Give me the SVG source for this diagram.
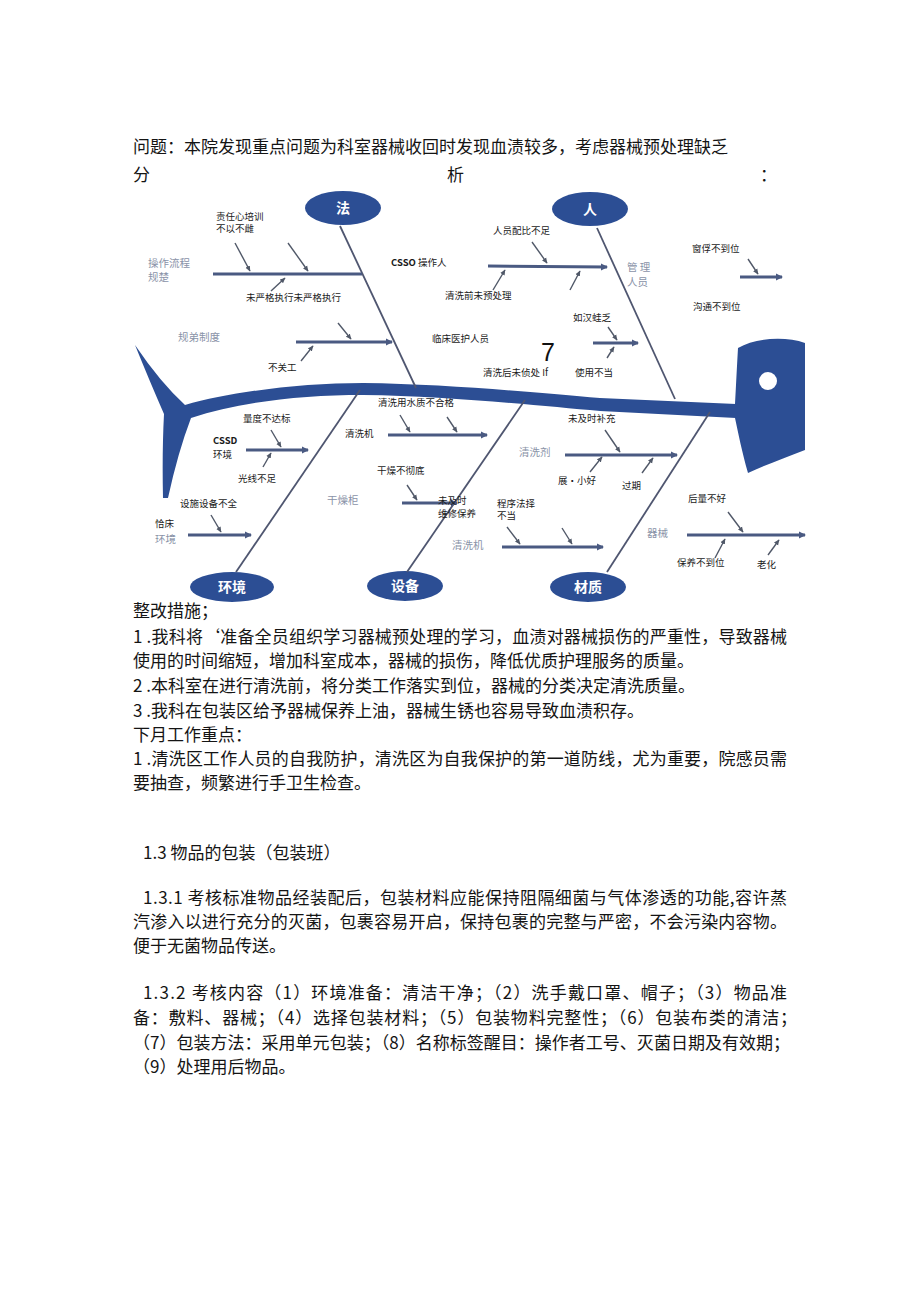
<svg xmlns="http://www.w3.org/2000/svg" width="920" height="1301" viewBox="0 0 920 1301">
<style>
.body{font-family:"Noto Sans CJK SC","Liberation Serif",serif;font-size:17px;fill:#141414}
.lb{font-family:"Noto Sans CJK SC","Liberation Sans",sans-serif;font-size:9.5px;fill:#1a1a1a}
.gl{font-family:"Noto Sans CJK SC","Liberation Sans",sans-serif;font-size:10.5px;fill:#8a93a8}
.el{fill:#2c4e94}
.et{font-family:"Noto Sans CJK SC","Liberation Sans",sans-serif;font-size:14px;font-weight:bold;fill:#ffffff;text-anchor:middle}
.bone{stroke:#4f5670;stroke-width:1.8;fill:none}
.sub{stroke:#4a5a82;stroke-width:3;fill:none}
.sm{stroke:#505868;stroke-width:1.4;fill:none}
</style>
<defs>
<marker id="ah" markerWidth="8" markerHeight="8" refX="6" refY="4" orient="auto" markerUnits="userSpaceOnUse">
<path d="M0,0.5 L7,4 L0,7.5 Z" fill="#4a5a82"/>
</marker>
<marker id="as" markerWidth="6" markerHeight="6" refX="5" refY="3" orient="auto" markerUnits="userSpaceOnUse">
<path d="M0,0.5 L5.5,3 L0,5.5 Z" fill="#505868"/>
</marker>
</defs>
<rect width="920" height="1301" fill="#ffffff"/>

<g id="header">
<text class="body" x="133" y="153" textLength="595" lengthAdjust="spacing">问题：本院发现重点问题为科室器械收回时发现血渍较多，考虑器械预处理缺乏</text>
<text class="body" x="133" y="181">分</text>
<text class="body" x="447" y="181">析</text>
<text class="body" x="760" y="181">：</text>
</g>

<g id="fish-body">
<path class="el" d="M135,345 Q160,382 185,405 C230,392 300,383 363,383 C450,384 540,393 600,398 L736,404 L736,418 L600,411 C540,406 450,396 363,395 C300,395 240,402 191,418 Q178,452 168,498 L163,498 Q162,452 164,414 Q150,382 135,345 Z"/>
<path class="el" d="M738,348 C755,338 785,336 805,343 L805,450 C785,458 765,465 748,473 C742,452 738,432 735,418 L735,404 C736,385 737,365 738,348 Z"/>
<circle cx="768" cy="381" r="9" fill="#ffffff"/>
</g>

<g id="node-fa"><ellipse class="el" cx="343" cy="208" rx="38" ry="17"/><text class="et" x="343" y="213">法</text></g>
<g id="node-ren"><ellipse class="el" cx="590" cy="209" rx="38" ry="17"/><text class="et" x="590" y="214">人</text></g>
<g id="node-huanjing"><ellipse class="el" cx="232" cy="587" rx="42" ry="15"/><text class="et" x="232" y="592">环境</text></g>
<g id="node-shebei"><ellipse class="el" cx="405" cy="586" rx="38" ry="15"/><text class="et" x="405" y="591">设备</text></g>
<g id="node-caizhi"><ellipse class="el" cx="588" cy="587" rx="38" ry="15"/><text class="et" x="588" y="592">材质</text></g>

<g id="connectors">
<line class="bone" x1="340" y1="226" x2="416" y2="388"/>
<line class="bone" x1="597" y1="228" x2="675" y2="399"/>
<line class="bone" x1="236" y1="572" x2="360" y2="390"/>
<line class="bone" x1="407" y1="572" x2="525" y2="400"/>
<line class="bone" x1="607" y1="572" x2="710" y2="412"/>

<line class="sub" x1="213" y1="274" x2="362" y2="274"/>
<line class="sub" x1="296" y1="342" x2="392" y2="342" marker-end="url(#ah)"/>
<line class="sub" x1="488" y1="266" x2="607" y2="267" marker-end="url(#ah)"/>
<line class="sub" x1="593" y1="343" x2="638" y2="343" marker-end="url(#ah)"/>
<line class="sub" x1="740" y1="277" x2="782" y2="277" marker-end="url(#ah)"/>
<line class="sub" x1="246" y1="450" x2="308" y2="450" marker-end="url(#ah)"/>
<line class="sub" x1="188" y1="535" x2="251" y2="535" marker-end="url(#ah)"/>
<line class="sub" x1="388" y1="435" x2="487" y2="435" marker-end="url(#ah)"/>
<line class="sub" x1="402" y1="503" x2="457" y2="503" marker-end="url(#ah)"/>
<line class="sub" x1="502" y1="547" x2="603" y2="547" marker-end="url(#ah)"/>
<line class="sub" x1="565" y1="455" x2="677" y2="455" marker-end="url(#ah)"/>
<line class="sub" x1="687" y1="535" x2="805" y2="535" marker-end="url(#ah)"/>

<line class="sm" x1="235" y1="243" x2="250" y2="271" marker-end="url(#as)"/>
<line class="sm" x1="288" y1="243" x2="308" y2="271" marker-end="url(#as)"/>
<line class="sm" x1="271" y1="291" x2="285" y2="278" marker-end="url(#as)"/>
<line class="sm" x1="338" y1="323" x2="351" y2="339" marker-end="url(#as)"/>
<line class="sm" x1="301" y1="361" x2="313" y2="346" marker-end="url(#as)"/>
<line class="sm" x1="532" y1="242" x2="547" y2="263" marker-end="url(#as)"/>
<line class="sm" x1="493" y1="290" x2="505" y2="270" marker-end="url(#as)"/>
<line class="sm" x1="570" y1="290" x2="580" y2="271" marker-end="url(#as)"/>
<line class="sm" x1="608" y1="327" x2="617" y2="340" marker-end="url(#as)"/>
<line class="sm" x1="607" y1="358" x2="614" y2="347" marker-end="url(#as)"/>
<line class="sm" x1="748" y1="259" x2="758" y2="274" marker-end="url(#as)"/>
<line class="sm" x1="271" y1="430" x2="281" y2="447" marker-end="url(#as)"/>
<line class="sm" x1="263" y1="467" x2="271" y2="453" marker-end="url(#as)"/>
<line class="sm" x1="211" y1="515" x2="221" y2="532" marker-end="url(#as)"/>
<line class="sm" x1="400" y1="415" x2="410" y2="432" marker-end="url(#as)"/>
<line class="sm" x1="447" y1="417" x2="457" y2="432" marker-end="url(#as)"/>
<line class="sm" x1="407" y1="485" x2="417" y2="500" marker-end="url(#as)"/>
<line class="sm" x1="507" y1="527" x2="520" y2="544" marker-end="url(#as)"/>
<line class="sm" x1="562" y1="528" x2="572" y2="544" marker-end="url(#as)"/>
<line class="sm" x1="605" y1="430" x2="620" y2="452" marker-end="url(#as)"/>
<line class="sm" x1="590" y1="472" x2="602" y2="457" marker-end="url(#as)"/>
<line class="sm" x1="642" y1="473" x2="653" y2="458" marker-end="url(#as)"/>
<line class="sm" x1="728" y1="512" x2="743" y2="532" marker-end="url(#as)"/>
<line class="sm" x1="715" y1="558" x2="725" y2="539" marker-end="url(#as)"/>
<line class="sm" x1="768" y1="555" x2="779" y2="540" marker-end="url(#as)"/>
</g>

<g id="labels-fa">
<text class="gl" x="148" y="267">操作流程</text>
<text class="gl" x="148" y="281">规楚</text>
<text class="lb" x="216" y="220">责任心培训</text>
<text class="lb" x="216" y="232">不以不雌</text>
<text class="lb" x="246" y="301">未严格执行未严格执行</text>
<text class="gl" x="178" y="341">规弟制度</text>
<text class="lb" x="268" y="371">不关工</text>
</g>

<g id="labels-ren">
<text class="lb" x="493" y="234">人员配比不足</text>
<text class="lb" x="391" y="266"><tspan font-weight="bold">CSSO</tspan> 操作人</text>
<text class="lb" x="445" y="299">清洗前未预处理</text>
<text class="gl" x="627" y="271">管 理</text>
<text class="gl" x="627" y="286">人员</text>
<text class="lb" x="432" y="342" font-size="10.5">临床医护人员</text>
<text x="541" y="361" font-family="Liberation Sans, sans-serif" font-size="25" fill="#111">7</text>
<text class="lb" x="483" y="376">清洗后未侦处 If</text>
<text class="lb" x="573" y="321">如汉蛙乏</text>
<text class="lb" x="575" y="376">使用不当</text>
<text class="lb" x="692" y="252">窗俘不到位</text>
<text class="lb" x="693" y="310">沟通不到位</text>
</g>

<g id="labels-huanjing">
<text class="lb" x="243" y="422">量度不达标</text>
<text class="lb" x="213" y="444" font-weight="bold" font-family="Liberation Sans, sans-serif">CSSD</text>
<text class="lb" x="213" y="458" font-size="10.5">环境</text>
<text class="lb" x="238" y="482">光线不足</text>
<text class="lb" x="180" y="507">设施设备不全</text>
<text class="lb" x="155" y="527">恰床</text>
<text class="gl" x="155" y="543">环境</text>
<text class="gl" x="327" y="504">干燥柜</text>
</g>

<g id="labels-shebei">
<text class="lb" x="345" y="437" font-size="10">清洗机</text>
<text class="lb" x="378" y="406">清洗用水质不合格</text>
<text class="lb" x="377" y="474">干燥不彻底</text>
<text class="lb" x="438" y="504" fill="#9a9a9a">未及时</text>
<text class="lb" x="438" y="517">维修保养</text>
<text class="gl" x="452" y="549">清洗机</text>
<text class="lb" x="497" y="507">程序法择</text>
<text class="lb" x="497" y="519">不当</text>
</g>

<g id="labels-caizhi">
<text class="lb" x="568" y="422">未及时补充</text>
<text class="gl" x="519" y="456">清洗剂</text>
<text class="lb" x="558" y="484">展•小好</text>
<text class="lb" x="622" y="489" fill="#666">过期</text>
<text class="lb" x="688" y="502">后量不好</text>
<text class="gl" x="647" y="537">器械</text>
<text class="lb" x="677" y="566">保养不到位</text>
<text class="lb" x="757" y="568" fill="#555">老化</text>
</g>

<g id="measures">
<text class="body" x="133" y="617">整改措施；</text>
<text class="body" x="133" y="643" textLength="654" lengthAdjust="spacing">1 .我科将‘准备全员组织学习器械预处理的学习，血渍对器械损伤的严重性，导致器械</text>
<text class="body" x="133" y="667">使用的时间缩短，增加科室成本，器械的损伤，降低优质护理服务的质量。</text>
<text class="body" x="133" y="692">2 .本科室在进行清洗前，将分类工作落实到位，器械的分类决定清洗质量。</text>
<text class="body" x="133" y="717">3 .我科在包装区给予器械保养上油，器械生锈也容易导致血渍积存。</text>
<text class="body" x="133" y="741">下月工作重点：</text>
<text class="body" x="133" y="765" textLength="654" lengthAdjust="spacing">1 .清洗区工作人员的自我防护，清洗区为自我保护的第一道防线，尤为重要，院感员需</text>
<text class="body" x="133" y="789">要抽查，频繁进行手卫生检查。</text>
</g>

<g id="section-13">
<text class="body" x="143" y="859">1.3 物品的包装（包装班）</text>
<text class="body" x="143" y="904" textLength="644" lengthAdjust="spacing">1.3.1 考核标准物品经装配后，包装材料应能保持阻隔细菌与气体渗透的功能,容许蒸</text>
<text class="body" x="133" y="928" textLength="654" lengthAdjust="spacing">汽渗入以进行充分的灭菌，包裹容易开启，保持包裹的完整与严密，不会污染内容物。</text>
<text class="body" x="133" y="952">便于无菌物品传送。</text>
<text class="body" x="143" y="999" textLength="644" lengthAdjust="spacing">1.3.2 考核内容（1）环境准备：清洁干净；（2）洗手戴口罩、帽子；（3）物品准</text>
<text class="body" x="133" y="1024" textLength="664" lengthAdjust="spacing">备：敷料、器械；（4）选择包装材料；（5）包装物料完整性；（6）包装布类的清洁；</text>
<text class="body" x="133" y="1049" textLength="657" lengthAdjust="spacing">（7）包装方法：采用单元包装；（8）名称标签醒目：操作者工号、灭菌日期及有效期；</text>
<text class="body" x="133" y="1073">（9）处理用后物品。</text>
</g>
</svg>
